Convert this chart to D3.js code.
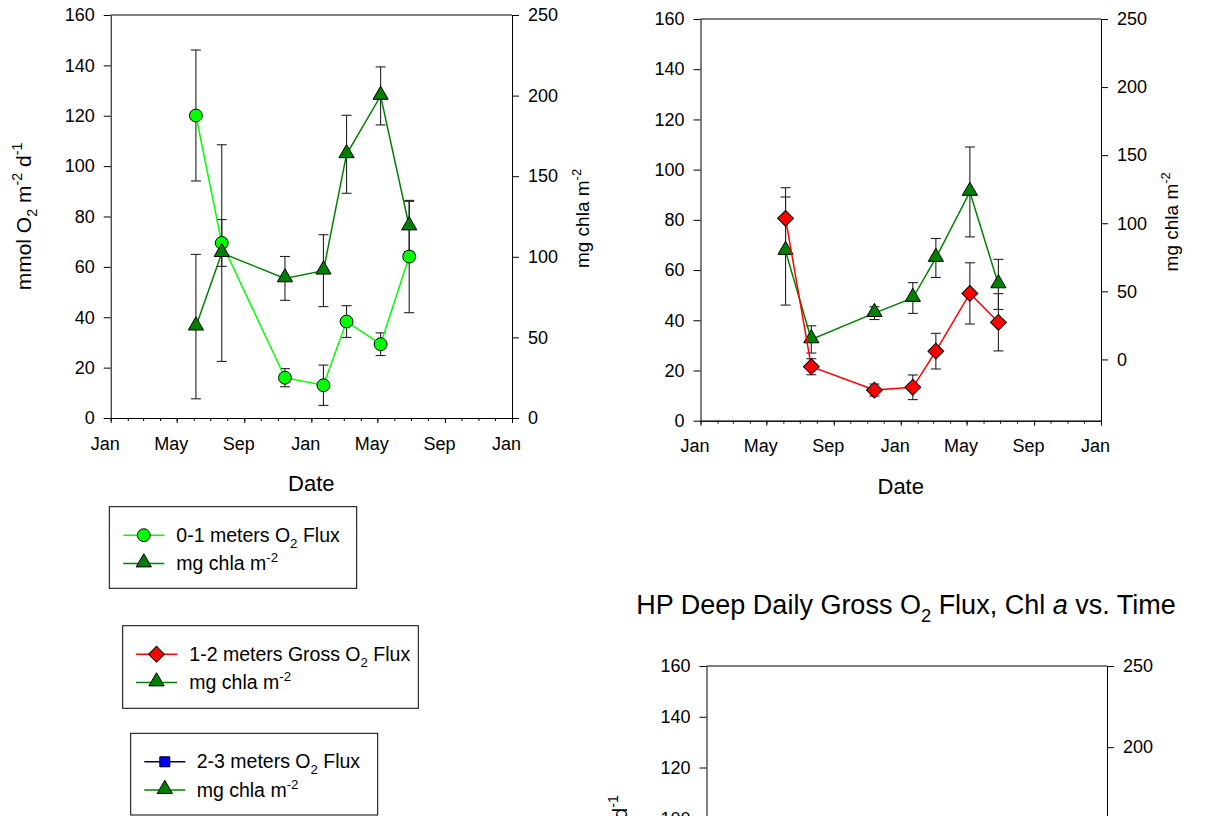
<!DOCTYPE html>
<html>
<head>
<meta charset="utf-8">
<script src="https://cdn.jsdelivr.net/npm/d3@7"></script>
<style>
  body { margin: 0; background: #fff; }
  text { font-family: "Liberation Sans", Arial, sans-serif; fill: #000; }
</style>
</head>
<body>
<div id="chart"></div>
<script>
// sampling dates (same for both depths)
const sampleDates = ["2006-06-05", "2006-07-22", "2006-11-14", "2007-01-23", "2007-03-06", "2007-05-07", "2007-06-28"];

// 0-1 m
const shallowFlux = [120.1, 69.5, 16.0, 13.0, 38.3, 29.3, 64.1];
const shallowFluxErr = [26, 9.3, 3.6, 8, 6.3, 4.5, 22.3];
const shallowChla = [56.7, 102.3, 86.6, 91.4, 163.6, 199.8, 118.8];
const shallowChlaErr = [44.8, 67.2, 13.6, 22.3, 24.2, 18, 15.6];

// 1-2 m
const midFlux = [80.6, 21.5, 12.2, 13.3, 27.7, 50.7, 39.2];
const midFluxErr = [12.2, 3.2, 2.4, 4.9, 7.1, 12.2, 11.4];
const midChla = [79.6, 14.7, 34.0, 45.1, 74.5, 123.0, 55.1];
const midChlaErr = [39.7, 10, 4.7, 11.3, 14.3, 33, 18.4];

const fluxTicks = [0, 20, 40, 60, 80, 100, 120, 140, 160];
const chlaTicks = [0, 50, 100, 150, 200, 250];

const W = 1207, H = 816;
const parseDate = d3.timeParse("%Y-%m-%d");
const dates = sampleDates.map(parseDate);

const svg = d3.select("#chart").append("svg")
    .attr("width", W)
    .attr("height", H);

// text with sub/superscripts: parts are strings or [text, "sub"|"sup"|"i"]
function richText(sel, parts, size) {
    let shift = 0;
    parts.forEach(function (p) {
        let t = typeof p === "string" ? [p, null] : p;
        let span = sel.append("tspan").text(t[0]);
        let target = 0;
        if (t[1] === "sub") target = size * 0.3;
        if (t[1] === "sup") target = -size * 0.4;
        if (target !== shift) span.attr("dy", target - shift);
        shift = target;
        if (t[1] === "sub" || t[1] === "sup") span.attr("font-size", size * 0.68);
        if (t[1] === "i") span.attr("font-style", "italic");
    });
}

const fluxTitle = ["mmol O", ["2", "sub"], " m", ["-2", "sup"], " d", ["-1", "sup"]];
const chlaTitle = ["mg chla m", ["-2", "sup"]];

function marker(sel, shape, fill) {
    if (shape === "circle") {
        sel.append("path").attr("d", d3.symbol(d3.symbolCircle, 130)());
    } else if (shape === "triangle") {
        sel.append("path").attr("d", d3.symbol(d3.symbolTriangle, 100)()).attr("transform", "translate(0,-1)");
    } else if (shape === "diamond") {
        sel.append("path").attr("d", d3.symbol(d3.symbolSquare, 125)()).attr("transform", "rotate(45)");
    } else {
        sel.append("path").attr("d", d3.symbol(d3.symbolSquare, 100)());
    }
    sel.selectAll("path").attr("fill", fill).attr("stroke", "#000").attr("stroke-width", 1);
}

function drawSeries(g, x, y, values, errs) {
    let pts = values.map(function (v, i) { return {date: dates[i], v: v, e: errs[i]}; });
    let eb = g.append("g").attr("stroke", "#222").attr("stroke-width", 1.1);
    pts.forEach(function (d) {
        let cx = x(d.date);
        eb.append("line").attr("x1", cx).attr("x2", cx).attr("y1", y(d.v - d.e)).attr("y2", y(d.v + d.e));
        eb.append("line").attr("x1", cx - 5).attr("x2", cx + 5).attr("y1", y(d.v - d.e)).attr("y2", y(d.v - d.e));
        eb.append("line").attr("x1", cx - 5).attr("x2", cx + 5).attr("y1", y(d.v + d.e)).attr("y2", y(d.v + d.e));
    });
    return pts;
}

function drawLineMarkers(g, x, y, pts, color, fill, shape) {
    g.append("path")
        .datum(pts)
        .attr("fill", "none")
        .attr("stroke", color)
        .attr("stroke-width", 1.5)
        .attr("d", d3.line().x(function (d) { return x(d.date); }).y(function (d) { return y(d.v); }));
    pts.forEach(function (d) {
        let m = g.append("g").attr("transform", "translate(" + x(d.date) + "," + y(d.v) + ")");
        marker(m, shape, fill);
    });
}

function panel(cfg) {
    let g = svg.append("g");
    let x = d3.scaleTime()
        .domain([new Date(2006, 0, 1), new Date(2008, 0, 1)])
        .range([cfg.x0, cfg.x1]);
    let yL = d3.scaleLinear().domain([0, 160]).range([cfg.y1, cfg.y0]);
    let yR = d3.scaleLinear().domain(cfg.rightDomain).range([cfg.y1, cfg.y0]);

    g.append("line")
        .attr("x1", cfg.x0).attr("x2", cfg.x1)
        .attr("y1", cfg.y0).attr("y2", cfg.y0)
        .attr("stroke", "#000");

    let left = g.append("g")
        .attr("transform", "translate(" + cfg.x0 + ",0)")
        .call(d3.axisLeft(yL).tickValues(fluxTicks).tickSize(7).tickPadding(9).tickSizeOuter(0));
    let right = g.append("g")
        .attr("transform", "translate(" + cfg.x1 + ",0)")
        .call(d3.axisRight(yR).tickValues(chlaTicks).tickSize(7).tickPadding(9).tickSizeOuter(0));

    let minor = g.append("g")
        .attr("transform", "translate(0," + cfg.y1 + ")")
        .call(d3.axisBottom(x).ticks(d3.timeMonth.every(1)).tickSize(3).tickFormat("").tickSizeOuter(0));
    let major = g.append("g")
        .attr("transform", "translate(0," + cfg.y1 + ")")
        .call(d3.axisBottom(x).ticks(d3.timeMonth.every(4)).tickSize(5).tickPadding(14)
            .tickFormat(d3.timeFormat("%b")).tickSizeOuter(0));
    major.selectAll("text").attr("dx", -6);

    [left, right, minor, major].forEach(function (a) {
        a.selectAll("text").attr("font-size", 18).attr("font-family", null);
        a.selectAll("path, line").attr("stroke", "#000");
    });

    if (cfg.dateLabel) {
        g.append("text")
            .attr("x", (cfg.x0 + cfg.x1) / 2)
            .attr("y", cfg.y1 + 73)
            .attr("text-anchor", "middle")
            .attr("font-size", 22)
            .text("Date");
    }
    if (cfg.leftTitle) {
        let t = g.append("text")
            .attr("transform", "translate(" + (cfg.x0 - 80) + "," + ((cfg.y0 + cfg.y1) / 2) + ") rotate(-90)")
            .attr("text-anchor", "middle")
            .attr("font-size", 21);
        richText(t, fluxTitle, 21);
    }
    if (cfg.rightTitle) {
        let t = g.append("text")
            .attr("transform", "translate(" + (cfg.x1 + 77) + "," + ((cfg.y0 + cfg.y1) / 2 + 2) + ") rotate(-90)")
            .attr("text-anchor", "middle")
            .attr("font-size", 19);
        richText(t, chlaTitle, 19);
    }
    return {g: g, x: x, yL: yL, yR: yR};
}

// left panel: 0-1 m
let p1 = panel({x0: 110.7, x1: 512, y0: 15, y1: 418, rightDomain: [0, 250], dateLabel: true, leftTitle: true, rightTitle: true});
let f1 = drawSeries(p1.g, p1.x, p1.yL, shallowFlux, shallowFluxErr);
let c1 = drawSeries(p1.g, p1.x, p1.yR, shallowChla, shallowChlaErr);
drawLineMarkers(p1.g, p1.x, p1.yL, f1, "#00ff00", "#00ff00", "circle");
drawLineMarkers(p1.g, p1.x, p1.yR, c1, "#008000", "#008000", "triangle");

// right panel: 1-2 m
let p2 = panel({x0: 700.5, x1: 1101, y0: 19, y1: 420.7, rightDomain: [-45, 250], dateLabel: true, leftTitle: false, rightTitle: true});
let f2 = drawSeries(p2.g, p2.x, p2.yL, midFlux, midFluxErr);
let c2 = drawSeries(p2.g, p2.x, p2.yR, midChla, midChlaErr);
drawLineMarkers(p2.g, p2.x, p2.yR, c2, "#008000", "#008000", "triangle");
drawLineMarkers(p2.g, p2.x, p2.yL, f2, "#ff0000", "#ff0000", "diamond");

// bottom panel: deep (only its top is in view)
let p3 = panel({x0: 706.5, x1: 1107, y0: 666, y1: 1072, rightDomain: [0, 250], dateLabel: true, leftTitle: true, rightTitle: true});
let title = svg.append("text")
    .attr("x", 906)
    .attr("y", 614)
    .attr("text-anchor", "middle")
    .attr("font-size", 27);
richText(title, ["HP Deep Daily Gross O", ["2", "sub"], " Flux, Chl ", ["a", "i"], " vs. Time"], 27);

// legends
function legend(box, entries) {
    let g = svg.append("g");
    g.append("rect")
        .attr("x", box.x).attr("y", box.y)
        .attr("width", box.w).attr("height", box.h)
        .attr("fill", "#fff").attr("stroke", "#000");
    entries.forEach(function (e, i) {
        let cy = box.y + 28.5 + i * 28.3;
        g.append("line")
            .attr("x1", box.x + box.lx).attr("x2", box.x + box.lx + 41)
            .attr("y1", cy).attr("y2", cy)
            .attr("stroke", e.color).attr("stroke-width", 1.5);
        let m = g.append("g").attr("transform", "translate(" + (box.x + box.lx + 20.5) + "," + cy + ")");
        marker(m, e.shape, e.fill);
        let t = g.append("text")
            .attr("x", box.x + box.tx)
            .attr("y", cy + 6.5)
            .attr("font-size", 19.5);
        richText(t, e.label, 19.5);
    });
}

legend({x: 109.3, y: 506.7, w: 247.4, h: 81.6, lx: 14, tx: 67}, [
    {label: ["0-1 meters O", ["2", "sub"], " Flux"], color: "#00ff00", fill: "#00ff00", shape: "circle"},
    {label: chlaTitle, color: "#008000", fill: "#008000", shape: "triangle"}
]);
legend({x: 122.7, y: 625.7, w: 295.6, h: 82.6, lx: 13.3, tx: 66.6}, [
    {label: ["1-2 meters Gross O", ["2", "sub"], " Flux"], color: "#ff0000", fill: "#ff0000", shape: "diamond"},
    {label: chlaTitle, color: "#008000", fill: "#008000", shape: "triangle"}
]);
legend({x: 130.7, y: 733.3, w: 247, h: 81.7, lx: 13.6, tx: 66}, [
    {label: ["2-3 meters O", ["2", "sub"], " Flux"], color: "#000040", fill: "#0000ff", shape: "square"},
    {label: chlaTitle, color: "#008000", fill: "#008000", shape: "triangle"}
]);
</script>
</body>
</html>
